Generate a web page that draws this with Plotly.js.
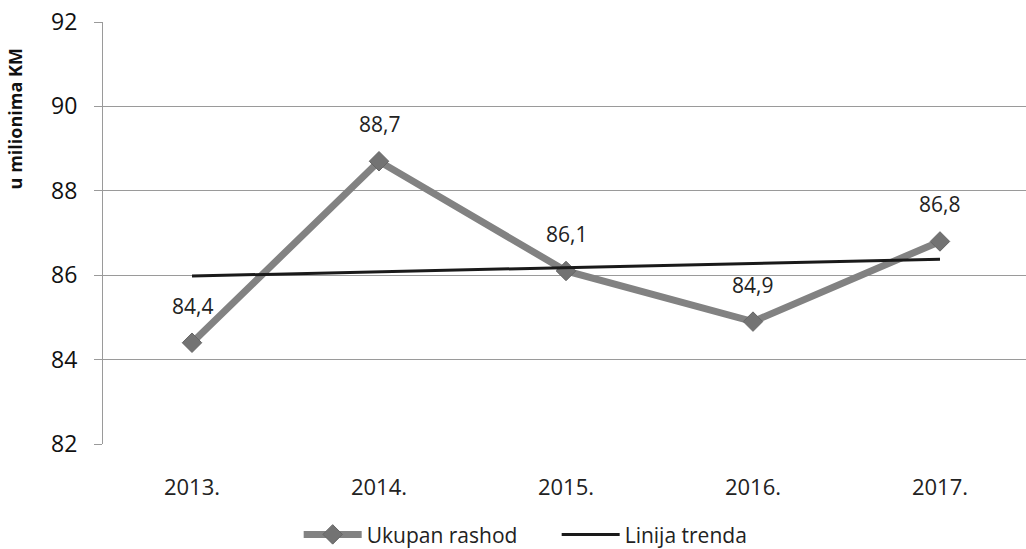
<!DOCTYPE html>
<html>
<head>
<meta charset="utf-8">
<script src="https://cdn.plot.ly/plotly-3.0.1.min.js"></script>
<style>html,body{margin:0;padding:0;background:#fff;}#chart{width:1026px;height:549px;}</style>
</head>
<body>
<div id="chart"></div>
<script>
const years = ["2013.", "2014.", "2015.", "2016.", "2017."];
const rashod = [84.4, 88.7, 86.1, 84.9, 86.8];
const labels = ["84,4", "88,7", "86,1", "84,9", "86,8"];
const yTicks = [82, 84, 86, 88, 90, 92];

// Linear trend line (least squares) of the series, as in the original spreadsheet
const n = rashod.length;
const xs = rashod.map((_, i) => i);
const mx = xs.reduce((a, b) => a + b, 0) / n;
const my = rashod.reduce((a, b) => a + b, 0) / n;
let sxy = 0, sxx = 0;
for (let i = 0; i < n; i++) { sxy += (xs[i] - mx) * (rashod[i] - my); sxx += (xs[i] - mx) ** 2; }
const slope = sxy / sxx, icpt = my - slope * mx;
const trend = xs.map(x => icpt + slope * x);

const font = "Open Sans, Noto Sans, sans-serif";

const traces = [
  {
    x: years, y: rashod, type: 'scatter', mode: 'lines+markers', name: 'Ukupan rashod',
    line: {color: '#828282', width: 7},
    marker: {symbol: 'diamond', size: 15, color: '#737373', line: {color: '#666', width: 1}}
  },
  {
    x: years, y: trend, type: 'scatter', mode: 'lines', name: 'Linija trenda',
    line: {color: '#1a1a1a', width: 3}
  }
];

const annotations = rashod.map((v, i) => ({
  xref: 'x', yref: 'y', x: i, y: v, text: labels[i], showarrow: false,
  yanchor: 'middle', yshift: 37,
  font: {family: font, size: 21, color: '#222'}
}));
annotations.push({
  xref: 'paper', yref: 'paper', x: -0.095, y: 0.77, xanchor: 'center', yanchor: 'middle',
  text: '<b>u milionima KM</b>', textangle: -90, showarrow: false,
  font: {family: font, size: 18, color: '#111'}
});

const layout = {
  width: 1026, height: 549,
  margin: {l: 103, r: 0, t: 22, b: 105, autoexpand: false},
  paper_bgcolor: '#fff', plot_bgcolor: '#fff',
  showlegend: true,
  legend: {orientation: 'h', x: 0.212, xanchor: 'left', y: -0.215, yanchor: 'middle',
           itemwidth: 58, entrywidth: 185, entrywidthmode: 'pixels',
           font: {family: font, size: 21, color: '#222'}},
  xaxis: {
    type: 'category', range: [-0.476, 4.46],
    showgrid: false, zeroline: false, showline: false, ticks: '',
    ticklabelstandoff: 28,
    tickfont: {family: font, size: 22, color: '#222'}
  },
  yaxis: {
    range: [82, 92], tickvals: yTicks, ticktext: yTicks.map(String),
    showgrid: true, gridcolor: '#9a9a9a', gridwidth: 1,
    showline: true, linecolor: '#9a9a9a', linewidth: 1,
    ticks: 'outside', ticklen: 8, tickcolor: '#9a9a9a',
    ticklabelstandoff: 12, zeroline: false,
    tickfont: {family: font, size: 23, color: '#111'}
  },
  annotations: annotations
};

Plotly.newPlot('chart', traces, layout, {displayModeBar: false, staticPlot: true});
</script>
</body>
</html>
